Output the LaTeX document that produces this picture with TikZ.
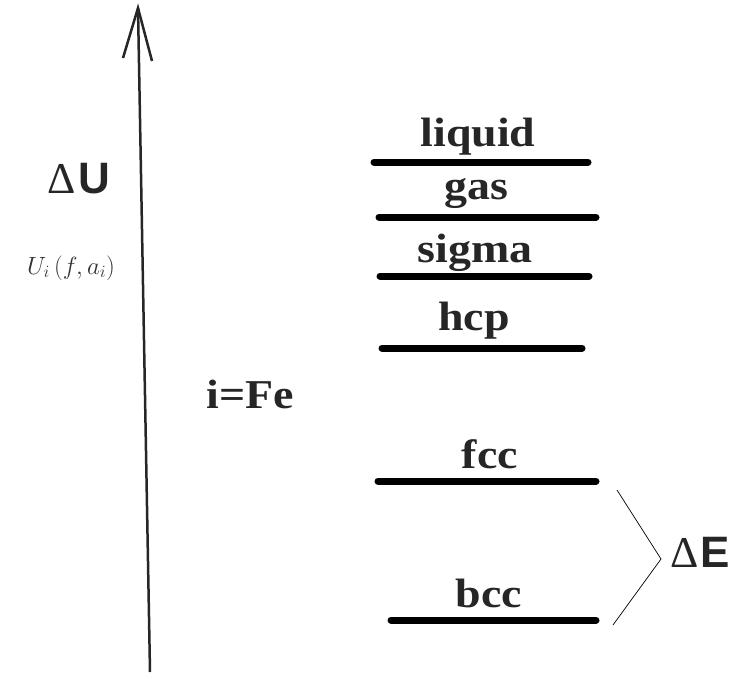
\documentclass[tikz,border=0pt]{standalone}
\usepackage{fontspec}
\setmainfont{Liberation Serif}
\newfontfamily\sansb{Liberation Sans}
\begin{document}
\begin{tikzpicture}[x=1pt,y=-1pt,
  level/.style={line width=7pt,line cap=round},
  lab/.style={font=\fontsize{41}{43}\selectfont\bfseries,inner sep=0pt,text=black!85,xscale=1.12},
  thinline/.style={line width=0.7pt}]
\useasboundingbox (0,0) rectangle (736,678);
% axis
\coordinate (ab) at (150,672);
\coordinate (at) at (138,8);
\coordinate (al) at (123,58);
\coordinate (ar) at (152,61);
\draw[line width=2.5pt,black!85] (ab) -- (at);
\draw[line width=2.5pt,black!85,line join=miter] (al) -- (at) -- (ar);
% labels
\node[inner sep=0pt,text=black!85] (dU) at (79,179) {\fontsize{44}{46}\selectfont Δ\hspace{2pt}\sansb\bfseries U};
\node[inner sep=0pt,text=black!80] (Ui) at (71,268) {\fontsize{23}{25}\selectfont$U_i\left(f,a_i\right)$};
\node[lab] (fe) at (250,394) {i=Fe};
% levels
\coordinate (l1) at (374,162); \coordinate (l2) at (588,162);
\coordinate (g1) at (379,217); \coordinate (g2) at (596,217);
\coordinate (s1) at (380,276); \coordinate (s2) at (589,276);
\coordinate (h1) at (382,348); \coordinate (h2) at (582,348);
\coordinate (f1) at (378,481); \coordinate (f2) at (596,481);
\coordinate (b1) at (391,620); \coordinate (b2) at (596,620);
\draw[level] (l1) -- (l2);
\draw[level] (g1) -- (g2);
\draw[level] (s1) -- (s2);
\draw[level] (h1) -- (h2);
\draw[level] (f1) -- (f2);
\draw[level] (b1) -- (b2);
\node[lab] (liq) at (478,137) {liquid};
\node[lab] (gas) at (476,193) {gas};
\node[lab] (sig) at (475,253) {sigma};
\node[lab] (hcp) at (474,321) {hcp};
\node[lab] (fcc) at (490,454) {fcc};
\node[lab] (bcc) at (489,593) {bcc};
% Delta E bracket
\coordinate (e1) at (617,490);
\coordinate (e2) at (661,559);
\coordinate (e3) at (613,625);
\draw[thinline] (e1) -- (e2) -- (e3);
\node[inner sep=0pt,text=black!85] (dE) at (700,552) {\fontsize{44}{46}\selectfont Δ\hspace{2pt}\sansb\bfseries E};
\end{tikzpicture}
\end{document}
